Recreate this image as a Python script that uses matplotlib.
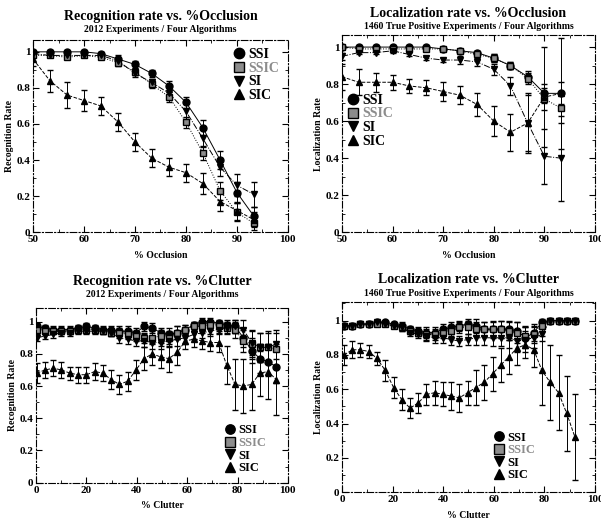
#!/usr/bin/env python
#
# four panel plot of recognition / localization rate vs occlusion and clutter
#----------------------------------------------------------------
import matplotlib
matplotlib.use('Agg')
#----------------------------------------------------------------
import numpy as np
import matplotlib.pyplot as plt
from matplotlib.lines import Line2D
from matplotlib.ticker import MultipleLocator

plt.rcParams['font.family'] = 'Liberation Serif'
plt.rcParams['font.weight'] = 'bold'

#-----------------------------------------------------------
# data
#-----------------------------------------------------------
algos = ['SSI', 'SSIC', 'SI', 'SIC']

# occlusion axis
occ_x = [50, 53.3, 56.7, 60, 63.3, 66.7, 70, 73.3, 76.7, 80, 83.3, 86.7, 90, 93.3]

# recognition rate vs occlusion
rec_occ_ssi = [1.0, 1.0, 1.0, 1.0, 0.99, 0.96, 0.93, 0.88, 0.81, 0.72, 0.58, 0.40, 0.22, 0.09]
rec_occ_ssic = [0.98, 0.98, 0.97, 0.98, 0.97, 0.94, 0.89, 0.82, 0.75, 0.61, 0.44, 0.23, 0.11, 0.05]
rec_occ_si = [0.99, 0.98, 0.98, 0.98, 0.98, 0.95, 0.88, 0.83, 0.77, 0.67, 0.52, 0.36, 0.26, 0.21]
rec_occ_sic = [0.96, 0.84, 0.76, 0.73, 0.70, 0.61, 0.50, 0.41, 0.36, 0.33, 0.27, 0.17, 0.12, 0.07]
rec_occ_ssi_err = [0.01, 0.01, 0.01, 0.01, 0.01, 0.02, 0.02, 0.02, 0.03, 0.03, 0.04, 0.05, 0.06, 0.05]
rec_occ_ssic_err = [0.01, 0.01, 0.01, 0.01, 0.01, 0.02, 0.02, 0.02, 0.03, 0.03, 0.04, 0.05, 0.05, 0.04]
rec_occ_si_err = [0.01, 0.01, 0.01, 0.01, 0.01, 0.02, 0.02, 0.02, 0.03, 0.04, 0.05, 0.05, 0.06, 0.07]
rec_occ_sic_err = [0.04, 0.06, 0.07, 0.06, 0.05, 0.05, 0.05, 0.05, 0.05, 0.05, 0.06, 0.05, 0.05, 0.04]

# localization rate vs occlusion
loc_occ_ssi = [1.0, 1.0, 1.0, 1.0, 1.0, 1.0, 0.99, 0.98, 0.97, 0.94, 0.90, 0.84, 0.75, 0.75]
loc_occ_ssic = [1.0, 0.99, 0.99, 0.99, 0.99, 0.99, 0.99, 0.98, 0.96, 0.94, 0.90, 0.83, 0.72, 0.67]
loc_occ_si = [0.95, 0.97, 0.97, 0.98, 0.96, 0.94, 0.93, 0.93, 0.92, 0.88, 0.79, 0.59, 0.41, 0.40]
loc_occ_sic = [0.84, 0.81, 0.81, 0.81, 0.79, 0.78, 0.76, 0.74, 0.69, 0.60, 0.54, 0.59, 0.73, 0.75]
loc_occ_ssi_err = [0.01, 0.01, 0.01, 0.01, 0.01, 0.01, 0.01, 0.01, 0.01, 0.02, 0.02, 0.03, 0.05, 0.06]
loc_occ_ssic_err = [0.01, 0.01, 0.01, 0.01, 0.01, 0.01, 0.01, 0.01, 0.02, 0.02, 0.02, 0.03, 0.06, 0.08]
loc_occ_si_err = [0.02, 0.01, 0.01, 0.01, 0.01, 0.01, 0.01, 0.02, 0.02, 0.03, 0.05, 0.15, 0.15, 0.23]
loc_occ_sic_err = [0.07, 0.07, 0.05, 0.04, 0.04, 0.04, 0.05, 0.05, 0.06, 0.08, 0.10, 0.16, 0.27, 0.30]

# clutter axis, recognition
rc_x = [0.3, 3.6, 6.9, 10.1, 13.4, 16.7, 20.0, 23.3, 26.5, 29.8, 33.1, 36.4, 39.7,
        42.9, 46.2, 49.5, 52.8, 56.1, 59.3, 62.6, 65.9, 69.2, 72.5, 75.7, 79.0,
        82.3, 85.6, 88.9, 92.1, 95.4]
rec_clu_ssi = [0.97, 0.96, 0.95, 0.95, 0.95, 0.96, 0.97, 0.96, 0.95, 0.95, 0.94, 0.94, 0.93,
               0.97, 0.96, 0.93, 0.92, 0.93, 0.95, 0.98, 1.0, 1.0, 0.99, 0.98, 0.97,
               0.90, 0.82, 0.77, 0.75, 0.72]
rec_clu_ssic = [0.95, 0.94, 0.94, 0.94, 0.94, 0.95, 0.95, 0.95, 0.94, 0.93, 0.93, 0.92, 0.91,
                0.90, 0.90, 0.91, 0.90, 0.93, 0.95, 0.97, 0.97, 0.98, 0.97, 0.96, 0.95,
                0.88, 0.86, 0.84, 0.84, 0.83]
rec_clu_si = [0.90, 0.91, 0.92, 0.93, 0.93, 0.94, 0.94, 0.94, 0.94, 0.93, 0.90, 0.89, 0.88,
              0.88, 0.87, 0.87, 0.88, 0.89, 0.90, 0.92, 0.93, 0.94, 0.95, 0.96, 0.97,
              0.95, 0.87, 0.84, 0.84, 0.86]
rec_clu_sic = [0.68, 0.70, 0.71, 0.70, 0.68, 0.67, 0.67, 0.69, 0.68, 0.64, 0.61, 0.63, 0.70,
               0.77, 0.80, 0.78, 0.77, 0.81, 0.88, 0.89, 0.88, 0.87, 0.87, 0.73, 0.61,
               0.60, 0.61, 0.68, 0.69, 0.64]
rec_clu_ssi_err = [0.02, 0.02, 0.02, 0.02, 0.02, 0.02, 0.02, 0.02, 0.02, 0.02, 0.03, 0.03, 0.03,
                   0.03, 0.03, 0.03, 0.04, 0.04, 0.03, 0.02, 0.02, 0.02, 0.02, 0.03, 0.04,
                   0.06, 0.08, 0.09, 0.09, 0.10]
rec_clu_ssic_err = [0.02, 0.02, 0.02, 0.02, 0.02, 0.02, 0.02, 0.02, 0.02, 0.02, 0.03, 0.03, 0.03,
                    0.03, 0.04, 0.04, 0.04, 0.04, 0.03, 0.03, 0.02, 0.02, 0.03, 0.04, 0.05,
                    0.07, 0.08, 0.09, 0.10, 0.10]
rec_clu_si_err = [0.02, 0.02, 0.02, 0.02, 0.02, 0.02, 0.02, 0.02, 0.02, 0.02, 0.03, 0.03, 0.03,
                  0.04, 0.04, 0.04, 0.04, 0.04, 0.04, 0.03, 0.03, 0.03, 0.03, 0.03, 0.04,
                  0.06, 0.08, 0.09, 0.09, 0.09]
rec_clu_sic_err = [0.06, 0.05, 0.05, 0.05, 0.04, 0.05, 0.05, 0.05, 0.05, 0.06, 0.06, 0.06, 0.06,
                   0.07, 0.07, 0.07, 0.08, 0.08, 0.05, 0.05, 0.05, 0.05, 0.06, 0.12, 0.16,
                   0.17, 0.16, 0.14, 0.17, 0.22]

# clutter axis, localization
lc_x = [0.8, 4.1, 7.3, 10.6, 13.8, 17.1, 20.4, 23.6, 26.9, 30.1, 33.4, 36.7, 39.9,
        43.2, 46.4, 49.7, 52.9, 56.2, 59.5, 62.7, 66.0, 69.2, 72.5, 75.8, 79.0,
        82.3, 85.6, 88.8, 92.1]
loc_clu_ssi = [0.97, 0.97, 0.98, 0.98, 0.99, 0.99, 0.98, 0.97, 0.95, 0.94, 0.93, 0.93, 0.95,
               0.96, 0.97, 0.98, 0.97, 0.95, 0.95, 0.95, 0.95, 0.94, 0.90, 0.93, 0.99,
               1.0, 1.0, 1.0, 1.0]
loc_clu_ssic = [0.97, 0.97, 0.98, 0.98, 0.98, 0.98, 0.97, 0.96, 0.94, 0.93, 0.92, 0.92, 0.93,
                0.94, 0.96, 0.96, 0.95, 0.95, 0.95, 0.95, 0.94, 0.93, 0.91, 0.92, 0.97,
                1.0, 1.0, 1.0, 1.0]
loc_clu_si = [0.97, 0.97, 0.98, 0.98, 0.99, 0.98, 0.97, 0.96, 0.93, 0.92, 0.91, 0.90, 0.90,
              0.89, 0.88, 0.89, 0.90, 0.90, 0.90, 0.90, 0.90, 0.88, 0.89, 0.90, 0.92,
              1.0, 1.0, 1.0, 1.0]
loc_clu_sic = [0.80, 0.83, 0.83, 0.82, 0.78, 0.71, 0.61, 0.54, 0.49, 0.52, 0.57, 0.58, 0.57,
               0.56, 0.55, 0.58, 0.61, 0.64, 0.69, 0.74, 0.79, 0.84, 0.86, 0.83, 0.71,
               0.64, 0.58, 0.46, 0.32]
loc_clu_ssi_err = [0.01, 0.01, 0.01, 0.01, 0.01, 0.01, 0.01, 0.02, 0.02, 0.02, 0.03, 0.03, 0.03,
                   0.03, 0.03, 0.03, 0.04, 0.04, 0.04, 0.05, 0.05, 0.05, 0.06, 0.05, 0.02,
                   0.01, 0.01, 0.01, 0.01]
loc_clu_ssic_err = [0.01, 0.01, 0.01, 0.01, 0.01, 0.01, 0.01, 0.02, 0.02, 0.02, 0.03, 0.03, 0.03,
                    0.03, 0.03, 0.04, 0.04, 0.04, 0.05, 0.05, 0.05, 0.06, 0.06, 0.05, 0.03,
                    0.01, 0.01, 0.01, 0.01]
loc_clu_si_err = [0.01, 0.01, 0.01, 0.01, 0.01, 0.01, 0.01, 0.02, 0.02, 0.02, 0.03, 0.03, 0.03,
                  0.03, 0.03, 0.03, 0.04, 0.04, 0.05, 0.05, 0.06, 0.06, 0.07, 0.06, 0.04,
                  0.01, 0.01, 0.01, 0.01]
loc_clu_sic_err = [0.06, 0.05, 0.04, 0.04, 0.04, 0.06, 0.06, 0.06, 0.06, 0.06, 0.06, 0.07, 0.07,
                   0.08, 0.08, 0.07, 0.10, 0.10, 0.10, 0.10, 0.10, 0.10, 0.08, 0.10, 0.20,
                   0.22, 0.22, 0.22, 0.25]

#-----------------------------------------------------------
# styles for the four algorithms
#-----------------------------------------------------------
markers = ['o', 's', 'v', '^']
facecols = ['black', '0.55', 'black', 'black']
lstyles = ['-', ':', '-.', '--']


def panel(ax, x, ys, errs, title, subtitle, xlabel, ylabel, xlim, xmajor, ytop,
          legloc, legsize, suboff):
    for i in range(4):
        ax.errorbar(x, ys[i], yerr=errs[i], marker=markers[i], ms=5,
                    mfc=facecols[i], mec='black', color='black', ls=lstyles[i],
                    lw=0.7, elinewidth=0.7, capsize=2)
    ax.set_xlim(xlim)
    ax.set_ylim(0, ytop)
    ax.xaxis.set_major_locator(MultipleLocator(xmajor))
    ax.xaxis.set_minor_locator(MultipleLocator(xmajor / 2.0))
    ax.yaxis.set_minor_locator(MultipleLocator(0.1))
    ax.set_yticks([0, 0.2, 0.4, 0.6, 0.8, 1.0])
    ax.set_yticklabels(['0', '0.2', '0.4', '0.6', '0.8', '1'])
    ax.tick_params(which='both', direction='in', top=True, right=True,
                   labelsize=8, pad=2)
    ax.tick_params(which='major', length=4)
    ax.tick_params(which='minor', length=2)
    ax.set_xlabel(xlabel, fontsize=7, fontweight='bold', labelpad=5)
    ax.set_ylabel(ylabel, fontsize=7, fontweight='bold', labelpad=2)
    for sp in ax.spines.values():
        sp.set_linewidth(0.8)
        sp.set_linestyle((0, (6, 2, 1, 2)))
    ax.annotate(subtitle, xy=(0.5, 1.0), xycoords='axes fraction',
                xytext=(0, suboff), textcoords='offset points',
                ha='center', va='bottom', fontsize=7, fontweight='bold')
    ax.annotate(title, xy=(0.5, 1.0), xycoords='axes fraction',
                xytext=(0, suboff + 8), textcoords='offset points',
                ha='center', va='bottom', fontsize=10, fontweight='bold')
    # legend: markers only
    handles = [Line2D([], [], marker=markers[i], ls='none', ms=legsize * 0.75,
                      mfc=facecols[i], mec='black') for i in range(4)]
    leg = ax.legend(handles, algos, loc=legloc, fontsize=legsize,
                    frameon=False, handlelength=0.8, handletextpad=0.3,
                    labelspacing=0.05, borderaxespad=0.2)
    leg.get_texts()[1].set_color('0.55')


fig = plt.figure(figsize=(6.01, 5.23), dpi=100)
ax1 = fig.add_axes([0.055, 0.556, 0.424, 0.368])
ax2 = fig.add_axes([0.569, 0.556, 0.421, 0.377])
ax3 = fig.add_axes([0.060, 0.077, 0.419, 0.335])
ax4 = fig.add_axes([0.569, 0.059, 0.421, 0.364])

panel(ax1, occ_x,
      [rec_occ_ssi, rec_occ_ssic, rec_occ_si, rec_occ_sic],
      [rec_occ_ssi_err, rec_occ_ssic_err, rec_occ_si_err, rec_occ_sic_err],
      'Recognition rate vs. %Occlusion', '2012 Experiments / Four Algorithms',
      '% Occlusion', 'Recognition Rate', (50, 100), 10, 1.067,
      'upper right', 10, 4)
panel(ax2, occ_x,
      [loc_occ_ssi, loc_occ_ssic, loc_occ_si, loc_occ_sic],
      [loc_occ_ssi_err, loc_occ_ssic_err, loc_occ_si_err, loc_occ_sic_err],
      'Localization rate vs. %Occlusion',
      '1460 True Positive Experiments / Four Algorithms',
      '% Occlusion', 'Localization Rate', (50, 100), 10, 1.065,
      (0.0, 0.40), 10, 3)
panel(ax3, rc_x,
      [rec_clu_ssi, rec_clu_ssic, rec_clu_si, rec_clu_sic],
      [rec_clu_ssi_err, rec_clu_ssic_err, rec_clu_si_err, rec_clu_sic_err],
      'Recognition rate vs. %Clutter', '2012 Experiments / Four Algorithms',
      '% Clutter', 'Recognition Rate', (0, 100), 20, 1.087,
      (0.73, 0.02), 9, 6)
panel(ax4, lc_x,
      [loc_clu_ssi, loc_clu_ssic, loc_clu_si, loc_clu_sic],
      [loc_clu_ssi_err, loc_clu_ssic_err, loc_clu_si_err, loc_clu_sic_err],
      'Localization rate vs. %Clutter',
      '1460 True Positive Experiments / Four Algorithms',
      '% Clutter', 'Localization Rate', (0, 100), 20, 1.11,
      (0.58, 0.03), 9, 3)

plt.savefig('out.png', dpi=100)
